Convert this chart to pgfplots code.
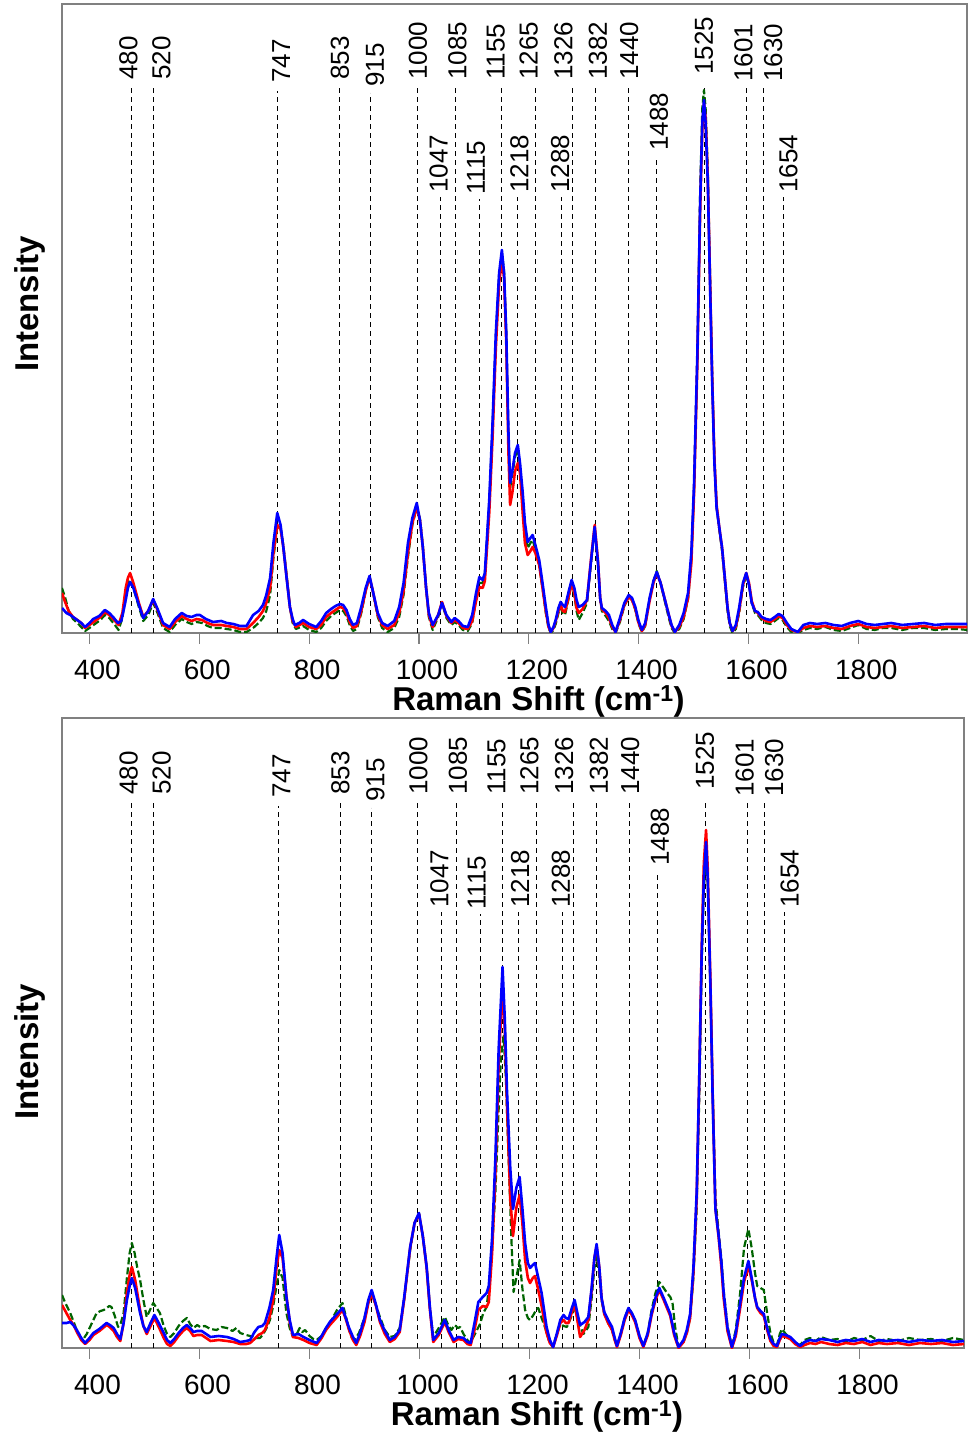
\documentclass[border=0pt]{standalone}
\usepackage{fontspec}
\setmainfont{Liberation Sans}
\usepackage{pgfplots}
\pgfplotsset{compat=1.18}
\usepackage{pgfplotstable}
\definecolor{cred}{RGB}{255,0,0}
\definecolor{cblue}{RGB}{0,0,255}
\definecolor{cgreen}{RGB}{0,100,0}
\definecolor{framegray}{RGB}{128,128,128}

% ---------------- top panel ----------------
\pgfplotstableread{
x y
350 25
358 20
365 18
375 14
385 10
392 6
400 10
407 14
418 17
428 23
436 20
443 16
452 10
458 12
465 30
470 45
474 51
480 45
490 28
498 15
507 22
516 34
524 24
534 10
546 6
556 14
568 20
577 17
586 16
595 18
601 18
612 14
625 11
640 12
650 10
662 9
674 7
686 7
698 18
708 22
716 28
722 38
729 55
735 90
742 120
748 108
753 86
759 55
765 26
770 14
774 8
782 10
789 13
800 9
813 6
822 12
831 20
840 24
848 27
856 29
862 28
868 23
874 14
880 8
887 10
895 26
903 45
910 57
916 42
925 20
933 10
943 7
955 12
964 26
972 50
980 90
988 115
996 130
1002 112
1007 86
1013 45
1018 20
1025 8
1035 18
1042 30
1050 18
1059 11
1065 15
1072 12
1080 7
1089 6
1097 18
1104 40
1110 56
1116 53
1120 60
1128 133
1134 210
1140 300
1146 360
1151 383
1155 360
1159 300
1163 200
1166 150
1170 162
1175 180
1180 188
1184 170
1189 140
1193 110
1198 91
1203 95
1207 98
1212 88
1219 73
1225 50
1231 26
1236 8
1240 1
1245 6
1249 13
1254 25
1258 31
1262 28
1266 26
1272 40
1278 53
1283 45
1287 33
1291 26
1298 28
1306 33
1313 70
1320 106
1326 70
1330 35
1333 25
1340 22
1346 18
1352 8
1358 1
1366 15
1374 30
1382 38
1388 35
1394 26
1400 12
1406 3
1412 10
1420 35
1427 52
1433 61
1440 50
1448 33
1455 18
1460 8
1466 1
1474 8
1482 20
1490 40
1496 80
1501 150
1507 280
1512 430
1516 510
1519 533
1522 510
1526 450
1530 350
1534 250
1538 170
1542 125
1547 105
1552 85
1557 55
1562 25
1566 10
1571 2
1577 8
1583 25
1590 50
1596 60
1601 48
1606 30
1612 22
1617 21
1624 16
1632 14
1640 13
1648 16
1655 19
1662 17
1670 10
1678 4
1690 1
1700 8
1712 10
1725 9
1740 10
1755 8
1770 7
1785 10
1800 12
1815 9
1830 8
1845 9
1860 10
1880 8
1900 9
1920 10
1940 8
1960 9
1980 9
2000 9
}\topblue

\pgfplotstableread{
x y
350 40
355 32
362 22
370 16
378 13
385 10
392 5
400 8
410 12
420 16
428 21
436 18
445 13
453 8
460 20
466 45
470 55
474 60
480 50
490 30
498 16
507 22
516 33
524 23
534 8
546 4
556 11
568 17
577 14
586 12
595 14
605 13
615 10
625 8
640 8
650 7
662 6
674 4
686 4
698 10
708 16
716 22
722 30
729 45
735 80
742 108
748 104
753 86
759 56
765 26
770 12
776 6
789 10
800 6
813 4
822 8
831 16
840 20
848 23
856 26
862 25
868 20
874 11
880 5
887 7
895 22
903 42
910 56
916 42
925 18
933 8
943 4
955 8
964 20
972 42
980 80
988 110
996 126
1002 112
1007 86
1013 45
1018 18
1025 6
1035 18
1042 31
1050 17
1059 10
1065 13
1072 10
1080 5
1089 4
1097 12
1104 32
1110 46
1116 45
1120 52
1128 120
1134 195
1140 285
1146 350
1151 373
1155 355
1159 290
1163 180
1166 128
1170 140
1175 162
1180 170
1184 160
1189 120
1193 90
1198 78
1203 82
1207 86
1212 80
1219 68
1225 45
1231 22
1236 6
1240 1
1245 5
1249 12
1254 22
1258 28
1262 22
1266 21
1272 35
1278 50
1283 40
1287 25
1291 20
1298 24
1306 33
1313 72
1320 108
1326 72
1330 35
1333 24
1340 20
1346 15
1352 6
1358 1
1366 13
1374 28
1382 36
1388 33
1394 24
1400 10
1406 2
1412 8
1420 32
1427 50
1433 60
1440 50
1448 33
1455 18
1460 7
1466 1
1474 6
1482 16
1490 35
1496 70
1501 140
1507 270
1512 420
1516 505
1519 530
1522 515
1526 455
1530 355
1534 255
1538 175
1542 128
1547 105
1552 85
1557 55
1562 25
1566 10
1571 2
1577 6
1583 22
1590 48
1596 60
1601 50
1606 32
1612 22
1617 20
1624 15
1632 12
1640 11
1648 14
1655 17
1662 15
1670 8
1678 3
1690 1
1700 5
1712 7
1725 6
1740 7
1755 5
1770 4
1785 7
1800 9
1815 6
1830 5
1845 6
1860 7
1880 5
1900 6
1920 7
1940 5
1960 6
1980 6
2000 6
}\topred

\pgfplotstableread{
x y
350 45
356 35
362 22
370 14
378 10
385 6
392 2
400 5
410 9
420 13
428 18
436 15
445 9
453 3
460 15
466 40
470 50
474 53
480 45
490 26
498 12
507 18
516 30
524 20
534 5
546 1
556 8
568 14
577 11
586 9
595 11
605 10
615 7
625 5
640 5
650 4
662 3
674 1
686 1
698 5
708 10
716 15
722 22
729 38
735 75
742 106
748 105
753 88
759 58
765 26
770 10
776 4
789 7
800 3
813 1
822 5
831 12
840 17
848 20
856 23
862 22
868 17
874 8
880 2
887 4
895 20
903 42
910 56
916 42
925 16
933 5
943 1
955 5
964 16
972 38
980 76
988 108
996 126
1002 114
1007 88
1013 45
1018 16
1025 3
1035 16
1042 30
1050 15
1059 8
1065 11
1072 8
1080 3
1089 2
1097 10
1104 34
1110 50
1116 50
1120 58
1128 130
1134 205
1140 295
1146 358
1151 380
1155 362
1159 300
1163 195
1166 145
1170 158
1175 176
1180 184
1184 168
1189 132
1193 100
1198 85
1203 90
1207 93
1212 84
1219 68
1225 45
1231 20
1236 5
1240 0
1245 3
1249 9
1254 20
1258 25
1262 20
1266 18
1272 33
1278 50
1283 38
1287 22
1291 13
1298 20
1306 30
1313 68
1320 104
1326 70
1330 33
1333 22
1340 17
1346 12
1352 4
1358 0
1366 11
1374 27
1382 36
1388 33
1394 23
1400 9
1406 1
1412 7
1420 34
1427 52
1433 62
1440 50
1448 31
1455 15
1460 5
1466 0
1474 4
1482 14
1490 34
1496 72
1501 145
1507 280
1512 440
1516 525
1519 543
1522 525
1526 462
1530 360
1534 258
1538 175
1542 126
1547 103
1552 82
1557 52
1562 22
1566 7
1571 0
1577 4
1583 20
1590 46
1596 58
1601 48
1606 30
1612 20
1617 18
1624 13
1632 10
1640 9
1648 12
1655 15
1662 13
1670 6
1678 1
1690 0
1700 3
1712 5
1725 4
1740 6
1755 3
1770 2
1785 5
1800 8
1815 4
1830 3
1845 5
1860 5
1880 3
1900 5
1920 5
1940 3
1960 4
1980 4
2000 3
}\topgreen

% ---------------- bottom panel ----------------
\pgfplotstableread{
x y
350 25
358 25
365 26
372 22
377 18
385 10
392 5
400 10
407 15
418 19
431 25
437 23
444 20
450 14
456 9
462 25
468 48
473 62
477 70
483 60
492 35
498 22
504 16
511 25
518 33
526 25
535 15
541 8
547 5
554 9
562 15
570 20
577 23
583 20
589 16
596 17
604 17
612 14
620 11
635 12
650 11
662 9
674 6
685 7
692 8
700 16
707 21
714 22
719 25
727 40
734 58
740 90
745 113
751 95
758 51
764 28
770 13
780 14
789 11
800 8
813 5
822 12
830 20
837 26
850 34
860 40
866 30
872 20
879 11
885 5
892 15
900 30
907 48
913 58
920 45
928 28
937 17
946 8
955 11
964 18
972 50
983 101
991 125
999 135
1006 112
1013 81
1019 40
1025 8
1035 15
1046 28
1053 18
1062 8
1070 11
1080 10
1087 6
1093 5
1100 25
1107 46
1115 51
1122 55
1126 62
1132 110
1138 190
1144 300
1151 381
1155 330
1159 258
1165 180
1170 139
1176 160
1182 171
1187 140
1192 105
1197 85
1201 80
1206 83
1210 85
1216 70
1222 55
1231 21
1237 8
1243 1
1250 15
1256 28
1262 33
1266 30
1271 29
1277 40
1282 48
1287 35
1292 23
1300 26
1307 31
1313 60
1318 90
1322 104
1327 80
1331 50
1336 36
1343 28
1350 21
1355 10
1359 2
1366 15
1373 30
1380 40
1386 35
1392 28
1400 12
1407 2
1415 15
1422 35
1429 50
1436 60
1444 50
1450 42
1456 34
1463 15
1471 1
1480 8
1486 18
1492 34
1498 80
1504 156
1509 280
1513 393
1517 470
1521 506
1524 470
1529 359
1533 250
1538 139
1544 112
1549 85
1553 55
1560 20
1568 1
1575 15
1583 45
1590 70
1598 87
1604 70
1610 50
1614 41
1620 37
1626 34
1632 20
1638 9
1644 4
1650 2
1655 10
1659 14
1666 13
1674 11
1683 6
1692 2
1700 6
1710 8
1720 7
1730 9
1745 8
1760 6
1775 8
1790 7
1805 9
1820 6
1835 8
1850 7
1870 8
1890 6
1910 8
1930 7
1950 8
1970 6
1990 7
}\botblue

\pgfplotstableread{
x y
350 43
358 35
365 28
372 22
377 16
385 8
392 4
400 8
407 13
418 17
431 23
437 21
444 17
450 11
456 7
462 25
468 55
473 73
477 81
483 68
492 38
498 22
504 14
511 22
518 30
526 21
535 10
541 4
547 2
554 6
562 12
570 17
577 20
583 17
589 12
596 13
604 13
612 10
620 7
635 8
650 7
662 6
674 4
685 4
692 5
700 9
707 13
714 15
719 18
727 30
734 48
740 80
745 98
751 90
758 52
764 26
770 11
780 10
789 8
800 5
813 3
822 10
830 18
837 23
850 31
860 38
866 29
872 18
879 8
885 3
892 12
900 26
907 45
913 54
920 44
928 26
937 14
946 6
955 9
964 16
972 48
983 100
991 125
999 134
1006 112
1013 80
1019 38
1025 6
1035 13
1046 26
1053 16
1062 6
1070 9
1080 8
1087 4
1093 3
1100 18
1107 38
1115 42
1122 41
1126 46
1132 95
1138 175
1144 285
1151 362
1155 320
1159 245
1165 150
1170 112
1176 140
1182 153
1187 125
1192 88
1197 70
1201 65
1206 70
1210 72
1216 58
1222 42
1231 15
1237 5
1243 1
1250 13
1256 25
1262 28
1266 25
1271 25
1277 36
1282 44
1287 28
1292 11
1300 18
1307 28
1313 58
1318 90
1322 102
1327 80
1331 50
1336 34
1343 25
1350 18
1355 8
1359 1
1366 13
1373 28
1380 38
1386 33
1392 26
1400 10
1407 1
1415 13
1422 33
1429 48
1436 58
1444 48
1450 40
1456 32
1463 13
1471 0
1480 6
1486 15
1492 30
1498 75
1504 150
1509 280
1513 400
1517 485
1521 518
1524 480
1529 365
1533 255
1538 140
1544 110
1549 80
1553 50
1560 17
1568 0
1575 12
1583 40
1590 66
1598 82
1604 68
1610 50
1614 40
1620 35
1626 32
1632 18
1638 7
1644 2
1650 1
1655 8
1659 12
1666 11
1674 9
1683 4
1692 1
1700 3
1710 5
1720 4
1730 6
1745 4
1760 3
1775 5
1790 4
1805 6
1820 3
1835 5
1850 4
1870 5
1890 3
1910 5
1930 4
1950 5
1970 3
1990 4
}\botred

\pgfplotstableread{
x y
350 53
356 45
365 35
372 25
378 16
383 11
390 10
395 14
401 21
407 28
413 35
420 37
426 38
431 40
436 42
440 41
446 32
452 21
457 25
462 35
468 70
473 95
477 105
482 95
487 80
492 68
498 48
504 31
510 38
516 45
522 40
528 35
535 22
541 14
547 11
554 15
562 22
570 27
577 30
583 24
589 20
596 23
601 21
610 22
620 19
631 18
640 21
650 20
660 17
667 20
674 15
685 13
692 12
698 11
704 10
710 10
716 14
722 20
728 28
734 42
740 62
745 78
751 70
758 35
764 20
770 11
777 14
782 20
787 16
792 18
800 12
807 9
813 8
822 12
830 20
837 25
850 38
860 45
866 32
872 18
877 10
882 8
890 15
900 30
907 46
913 53
920 44
928 31
937 18
946 11
955 12
964 20
972 48
983 98
991 125
999 135
1006 112
1013 81
1019 40
1025 11
1035 20
1046 31
1053 22
1058 18
1064 23
1070 20
1074 21
1080 14
1087 8
1092 5
1100 13
1110 24
1116 35
1122 41
1125 55
1132 100
1138 156
1144 240
1148 290
1153 312
1157 270
1162 190
1167 110
1171 56
1176 70
1182 88
1187 60
1192 38
1197 30
1201 28
1207 33
1212 38
1216 40
1222 30
1228 21
1235 8
1242 1
1250 14
1256 24
1262 22
1268 21
1275 30
1282 41
1290 25
1298 14
1307 21
1313 50
1318 80
1322 92
1327 72
1331 48
1336 34
1343 25
1350 18
1355 8
1359 2
1366 14
1373 30
1380 40
1386 35
1392 28
1400 12
1407 2
1415 15
1422 38
1429 55
1436 66
1444 60
1450 55
1456 51
1460 45
1465 20
1471 1
1480 6
1486 15
1492 30
1498 70
1504 140
1509 260
1513 380
1517 460
1521 491
1524 465
1529 360
1533 260
1538 150
1544 115
1549 88
1553 58
1560 22
1568 1
1575 18
1583 55
1590 100
1598 119
1604 100
1610 75
1614 62
1620 60
1626 58
1632 35
1638 15
1644 5
1650 3
1655 14
1659 19
1666 14
1674 10
1683 5
1692 3
1700 8
1710 10
1720 7
1730 11
1745 8
1760 9
1775 6
1790 10
1805 8
1820 12
1835 7
1850 9
1870 7
1890 10
1910 8
1930 9
1950 7
1970 10
1990 8
}\botgreen

% \peak{line x}{line top}{label x}{label y}{text}
\newcommand{\peak}[5]{%
  \addplot[black, line width=0.9pt, dash pattern=on 5pt off 4pt] coordinates {(#1,0) (#1,#2)};
  \node[rotate=90, anchor=west, inner sep=0pt, font=\fontsize{26}{28}\selectfont] at (axis cs:#3,#4) {#5};
}
\newcommand{\allpeaks}{%
  \peak{476}{545}{471}{553}{480}
  \peak{517}{545}{531}{553}{520}
  \peak{743}{542}{749}{550}{747}
  \peak{856}{545}{856}{553}{853}
  \peak{912}{540}{920}{546}{915}
  \peak{997}{545}{998}{553}{1000}
  \peak{1039}{436}{1036}{440}{1047}
  \peak{1067}{545}{1070}{553}{1085}
  \peak{1110}{434}{1104}{438}{1115}
  \peak{1151}{545}{1140}{553}{1155}
  \peak{1180}{436}{1183}{440}{1218}
  \peak{1212}{545}{1200}{553}{1265}
  \peak{1259}{436}{1257}{440}{1288}
  \peak{1279}{545}{1263}{553}{1326}
  \peak{1321}{545}{1326}{553}{1382}
  \peak{1381}{545}{1383}{553}{1440}
  \peak{1432}{474}{1437}{482}{1488}
  \peak{1519}{545}{1519}{558}{1525}
  \peak{1596}{545}{1591}{551}{1601}
  \peak{1627}{545}{1645}{551}{1630}
  \peak{1663}{436}{1673}{440}{1654}
}

\pgfplotsset{
  ramanaxis/.style={
    scale only axis,
    ymin=0,
    axis line style={framegray, line width=1.3pt},
    xtick={400,600,...,1800},
    ytick=\empty,
    xtick pos=left,
    tick align=outside,
    major tick length=11pt,
    every tick/.style={framegray, line width=1.2pt},
    /pgf/number format/assume math mode=true,
    /pgf/number format/1000 sep={},
    xticklabel style={font=\fontsize{28}{30}\selectfont, xshift=8pt, yshift=-12pt},
    xlabel={\bfseries Raman Shift (cm\textsuperscript{-1})},
    xlabel style={font=\fontsize{33}{36}\selectfont, xshift=24pt, yshift=1pt},
    ylabel={\bfseries Intensity},
  },
  bluel/.style={cblue, line width=2.6pt, line join=round},
  redl/.style={cred, line width=2.6pt, line join=round},
  greenl/.style={cgreen, line width=2.2pt, dash pattern=on 7pt off 3pt, line join=round},
}

\begin{document}
\begin{tikzpicture}
\useasboundingbox (0pt,0pt) rectangle (975pt,1437pt);

\begin{axis}[ramanaxis,
  at={(62pt,804pt)}, anchor=south west,
  width=905pt, height=629pt,
  xmin=350, xmax=1998, ymax=629,
  every axis y label/.style={at={(axis description cs:-0.035,0.523)}, rotate=90, anchor=center, font=\fontsize{33}{36}\selectfont},
]
\allpeaks
\addplot[greenl] table {\topgreen};
\addplot[redl] table {\topred};
\addplot[bluel] table {\topblue};
\end{axis}

\begin{axis}[ramanaxis,
  at={(62pt,89pt)}, anchor=south west,
  width=902pt, height=630pt,
  xmin=350, xmax=1990, ymax=630,
  every axis y label/.style={at={(axis description cs:-0.035,0.47)}, rotate=90, anchor=center, font=\fontsize{33}{36}\selectfont},
]
\allpeaks
\addplot[greenl] table {\botgreen};
\addplot[redl] table {\botred};
\addplot[bluel] table {\botblue};
\end{axis}
\end{tikzpicture}
\end{document}
